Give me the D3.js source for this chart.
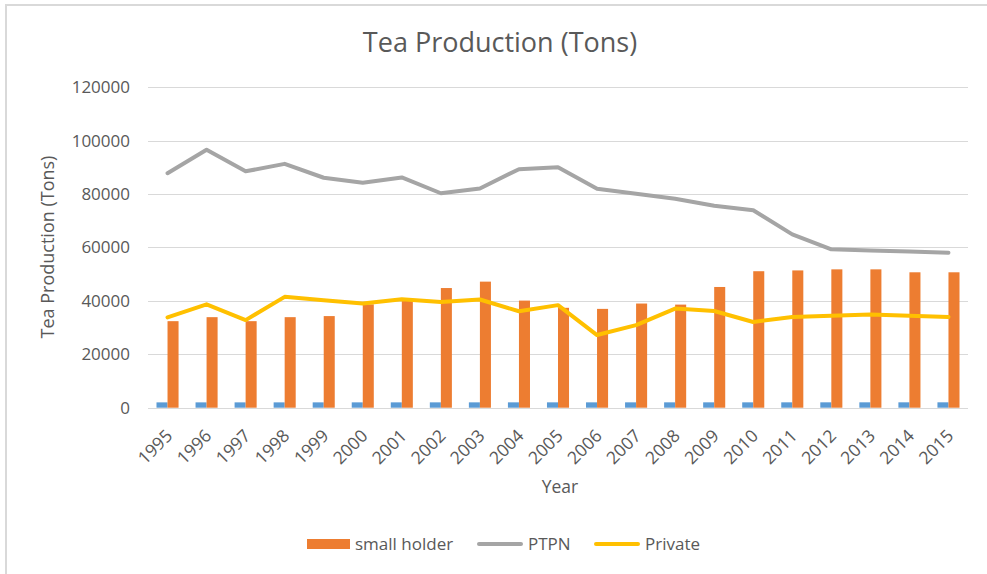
<!DOCTYPE html>
<html>
<head>
<meta charset="utf-8">
<script src="https://cdn.jsdelivr.net/npm/d3@7"></script>
<style>
	body { margin: 0; background: #fff; }
	svg { display: block; font-family: "Open Sans", sans-serif; }
</style>
</head>
<body>
<div id="main"></div>
<script>
var years = ["1995", "1996", "1997", "1998", "1999", "2000", "2001", "2002", "2003", "2004", "2005",
	"2006", "2007", "2008", "2009", "2010", "2011", "2012", "2013", "2014", "2015"];

// the blue bars are the year column itself (legend entry removed in the original)
var yearValues = [1995, 1996, 1997, 1998, 1999, 2000, 2001, 2002, 2003, 2004, 2005,
	2006, 2007, 2008, 2009, 2010, 2011, 2012, 2013, 2014, 2015];

var smallHolder = [32400, 33900, 32400, 33900, 34300, 38700, 40100, 44800, 47200, 40100, 37400,
	37000, 39000, 38600, 45200, 51100, 51400, 51800, 51800, 50700, 50700];

var ptpn = [87800, 96600, 88500, 91300, 86100, 84200, 86200, 80300, 82100, 89300, 90000,
	82000, 80100, 78200, 75600, 73900, 64900, 59300, 58900, 58500, 58000];

var privateEst = [33800, 38700, 32800, 41500, 40200, 39000, 40600, 39600, 40500, 36100, 38400,
	27200, 30900, 37100, 36200, 32100, 34000, 34400, 34900, 34400, 34000];

var yTicks = [0, 20000, 40000, 60000, 80000, 100000, 120000];

var legendItems = [
	{ name: "small holder", type: "bar", color: "#ED7D31" },
	{ name: "PTPN", type: "line", color: "#A5A5A5" },
	{ name: "Private", type: "line", color: "#FFC000" }
];

var textColor = "#595959";

var svg = d3.select("#main").append("svg")
	.attr("width", 987)
	.attr("height", 574);

svg.append("rect")
	.attr("width", 987).attr("height", 574)
	.attr("fill", "#fff");

// chart border (only top and left edges show)
svg.append("rect")
	.attr("x", 6).attr("y", 5)
	.attr("width", 1100).attr("height", 700)
	.attr("fill", "none")
	.attr("stroke", "#D9D9D9")
	.attr("stroke-width", 2);

var plotLeft = 148, plotRight = 968, plotTop = 87.2, plotBottom = 407.7;

var x = d3.scaleBand()
	.domain(years)
	.range([plotLeft, plotRight])
	.paddingInner(0.435)
	.paddingOuter(0.2175);

var x1 = d3.scaleBand()
	.domain(["year", "small"])
	.range([0, x.bandwidth()]);

var y = d3.scaleLinear()
	.domain([0, 120000])
	.range([plotBottom, plotTop]);

// gridlines
svg.append("g").selectAll("line")
	.data(yTicks)
	.enter().append("line")
	.attr("x1", plotLeft).attr("x2", plotRight)
	.attr("y1", function(d) { return Math.round(y(d)) + 0.5; })
	.attr("y2", function(d) { return Math.round(y(d)) + 0.5; })
	.attr("stroke", "#D9D9D9")
	.attr("stroke-width", 1);

// y axis labels
var yaxis = d3.axisLeft(y).tickValues(yTicks).tickSize(0).tickPadding(0).tickFormat(d3.format("d"));
var gy = svg.append("g")
	.attr("transform", "translate(130,0)")
	.call(yaxis);
gy.select(".domain").remove();
gy.selectAll("text")
	.attr("fill", textColor)
	.attr("font-size", "17px")
	.attr("font-family", "Open Sans, sans-serif");

// bars
svg.append("g").selectAll("rect")
	.data(yearValues)
	.enter().append("rect")
	.attr("x", function(d, i) { return x(years[i]) + x1("year"); })
	.attr("y", function(d) { return y(d); })
	.attr("width", x1.bandwidth())
	.attr("height", function(d) { return plotBottom - y(d); })
	.attr("fill", "#5B9BD5");

svg.append("g").selectAll("rect")
	.data(smallHolder)
	.enter().append("rect")
	.attr("x", function(d, i) { return x(years[i]) + x1("small"); })
	.attr("y", function(d) { return y(d); })
	.attr("width", x1.bandwidth())
	.attr("height", function(d) { return plotBottom - y(d); })
	.attr("fill", "#ED7D31");

// lines
var line = d3.line()
	.x(function(d, i) { return x(years[i]) + x.bandwidth() / 2; })
	.y(function(d) { return y(d); });

svg.append("path")
	.datum(ptpn)
	.attr("d", line)
	.attr("fill", "none")
	.attr("stroke", "#A5A5A5")
	.attr("stroke-width", 4)
	.attr("stroke-linejoin", "round")
	.attr("stroke-linecap", "round");

svg.append("path")
	.datum(privateEst)
	.attr("d", line)
	.attr("fill", "none")
	.attr("stroke", "#FFC000")
	.attr("stroke-width", 4)
	.attr("stroke-linejoin", "round")
	.attr("stroke-linecap", "round");

// x axis labels, rotated
svg.append("g").selectAll("text")
	.data(years)
	.enter().append("text")
	.attr("transform", function(d) {
		return "translate(" + (x(d) + x.bandwidth() / 2 + 6) + ",437) rotate(-45)";
	})
	.attr("text-anchor", "end")
	.attr("fill", textColor)
	.attr("font-size", "17.5px")
	.text(function(d) { return d; });

// titles
svg.append("text")
	.attr("x", 500).attr("y", 52)
	.attr("text-anchor", "middle")
	.attr("fill", textColor)
	.attr("font-size", "27px")
	.text("Tea Production (Tons)");

svg.append("text")
	.attr("transform", "translate(54,247) rotate(-90)")
	.attr("text-anchor", "middle")
	.attr("fill", textColor)
	.attr("font-size", "18px")
	.text("Tea Production (Tons)");

svg.append("text")
	.attr("x", 560).attr("y", 493)
	.attr("text-anchor", "middle")
	.attr("fill", textColor)
	.attr("font-size", "17.5px")
	.text("Year");

// legend
var legendX = [307, 478, 595];
var legend = svg.append("g").selectAll("g")
	.data(legendItems)
	.enter().append("g")
	.attr("transform", function(d, i) { return "translate(" + legendX[i] + ",544)"; });

legend.each(function(d) {
	var g = d3.select(this);
	if (d.type == "bar") {
		g.append("rect")
			.attr("x", 0).attr("y", -5)
			.attr("width", 43).attr("height", 10)
			.attr("fill", d.color);
	} else {
		g.append("line")
			.attr("x1", 1).attr("x2", 43)
			.attr("y1", 0).attr("y2", 0)
			.attr("stroke", d.color)
			.attr("stroke-width", 4)
			.attr("stroke-linecap", "round");
	}
	g.append("text")
		.attr("x", d.type == "bar" ? 48 : 50)
		.attr("y", 0)
		.attr("dy", "0.35em")
		.attr("fill", textColor)
		.attr("font-size", "17px")
		.text(d.name);
});
</script>
</body>
</html>
